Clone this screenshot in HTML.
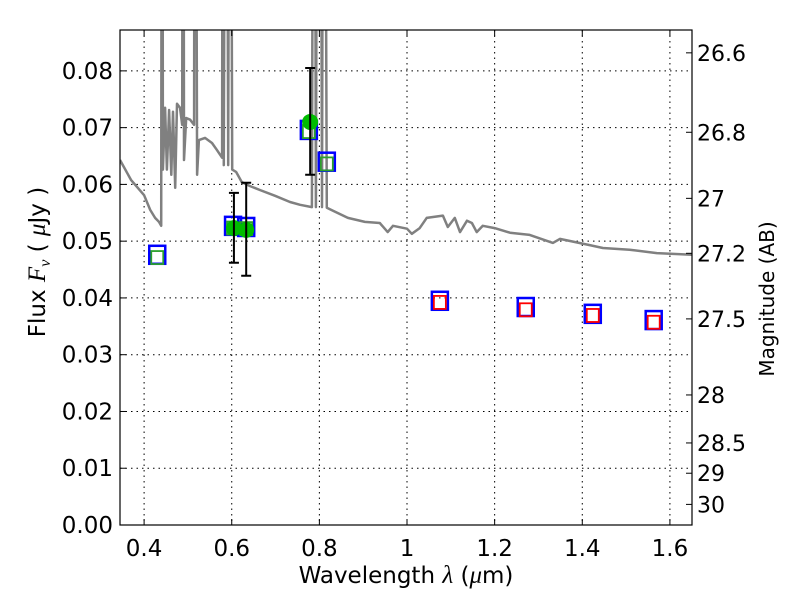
<!DOCTYPE html>
<html><head><meta charset="utf-8"><style>
body{margin:0;background:#fff;}
svg{font-family:"DejaVu Sans","Liberation Sans",sans-serif;}
</style></head><body>
<svg id="chart" width="800" height="600" viewBox="0 0 800 600">
<defs><clipPath id="clip"><rect x="120" y="30" width="572" height="495"/></clipPath></defs>
<rect x="0" y="0" width="800" height="600" fill="#fff"/>
<g id="grid"></g>
<g id="series" clip-path="url(#clip)"></g>
<rect x="120" y="30" width="572" height="495" fill="none" stroke="#000" stroke-width="1.2"/>
<g id="axes"></g>
<text x="406" y="583" font-size="23" text-anchor="middle">Wavelength  <tspan font-style="italic" font-family="Liberation Serif, serif" font-size="25">λ</tspan> (<tspan font-style="italic" font-family="Liberation Serif, serif" font-size="25">μ</tspan>m)</text>
<text transform="translate(45,262) rotate(-90)" font-size="23" text-anchor="middle">Flux  <tspan font-style="italic" font-family="Liberation Serif, serif" font-size="25">F<tspan font-size="16" dy="5">ν</tspan></tspan><tspan dy="-5"> (  </tspan><tspan font-style="italic" font-family="Liberation Serif, serif" font-size="25">μ</tspan>Jy )</text>
<text transform="translate(774,299) rotate(-90)" font-size="20" text-anchor="middle">Magnitude (AB)</text>
</svg>
<script>
const xTicks=[0.4,0.6,0.8,1.0,1.2,1.4,1.6];
const xTickLabels=["0.4","0.6","0.8","1","1.2","1.4","1.6"];
const yTicks=[0,0.01,0.02,0.03,0.04,0.05,0.06,0.07,0.08];
const yTickLabels=["0.00","0.01","0.02","0.03","0.04","0.05","0.06","0.07","0.08"];
const magTicks=[26.6,26.8,27,27.2,27.5,28,28.5,29,30];
const magTickLabels=["26.6","26.8","27","27.2","27.5","28","28.5","29","30"];
const specWave=[0.345,0.370,0.400,0.414,0.425,0.434,0.439,0.441,0.443,0.448,0.452,0.457,0.462,0.466,0.471,0.475,0.482,0.487,0.489,0.491,0.496,0.505,0.514,0.516,0.521,0.525,0.539,0.555,0.566,0.578,0.580,0.582,0.587,0.592,0.596,0.601,0.610,0.623,0.642,0.665,0.699,0.733,0.756,0.783,0.788,0.792,0.797,0.801,0.806,0.810,0.817,0.836,0.865,0.904,0.938,0.956,0.968,1.000,1.011,1.029,1.045,1.082,1.093,1.109,1.121,1.137,1.148,1.159,1.173,1.200,1.235,1.280,1.333,1.349,1.417,1.447,1.508,1.570,1.652];
const specFlux=[0.0643,0.0608,0.0581,0.0555,0.0541,0.0534,0.0527,0.2,0.0626,0.0735,0.0626,0.0731,0.0617,0.0728,0.0594,0.0742,0.0735,0.0705,0.2,0.0643,0.0717,0.0714,0.0705,0.2,0.0617,0.0678,0.0682,0.0673,0.0661,0.0647,0.2,0.0634,0.2,0.0634,0.2,0.0626,0.0622,0.0604,0.0597,0.0590,0.0580,0.0569,0.0564,0.0560,0.2,0.0560,0.2,0.2,0.0560,0.2,0.0559,0.0552,0.0541,0.0534,0.0532,0.0516,0.0527,0.0522,0.0513,0.0523,0.0541,0.0545,0.0525,0.0541,0.0516,0.0536,0.0532,0.0516,0.0527,0.0523,0.0515,0.0511,0.0497,0.0504,0.0493,0.0488,0.0485,0.0479,0.0476];
const modelWave=[0.430,0.603,0.633,0.776,0.817,1.075,1.271,1.424,1.563];
const modelFlux=[0.0476,0.0527,0.0525,0.0696,0.0640,0.0395,0.0384,0.0372,0.0361];
const innerFlux=[0.0472,0.0524,0.0523,0.0694,0.0637,0.0393,0.0380,0.0370,0.0358];
const innerColor=["#2ca02c","#2ca02c","#2ca02c","#2ca02c","#2ca02c","red","red","red","red"];
const obsWave=[0.605,0.633,0.779];
const obsFlux=[0.0523,0.0520,0.0710];
const obsLow=[0.0462,0.0439,0.0617];
const obsHigh=[0.0585,0.0603,0.0805];

const X0=0.345,X1=1.6504,Y0=0,Y1=0.0872;
const L=120,R=692,T=30,B=525;
const xs=v=>L+(v-X0)/(X1-X0)*(R-L);
const ys=v=>B-(v-Y0)/(Y1-Y0)*(B-T);
const magToFlux=m=>Math.pow(10,(23.9-m)/2.5);
const NS="http://www.w3.org/2000/svg";
function mk(tag,attrs,parent){const e=document.createElementNS(NS,tag);for(const k in attrs)e.setAttribute(k,attrs[k]);parent.appendChild(e);return e;}
const grid=document.getElementById('grid'),axes=document.getElementById('axes'),series=document.getElementById('series');

xTicks.forEach((v,i)=>{const x=xs(v);
 const g=mk('line',{x1:x,x2:x,y1:T,y2:B,stroke:'#000','stroke-width':1,'stroke-dasharray':'1.5,4'},grid);
 
 
 mk('line',{x1:x,x2:x,y1:B,y2:B-6,stroke:'#000','stroke-width':1},axes);
 mk('line',{x1:x,x2:x,y1:T,y2:T+6,stroke:'#000','stroke-width':1},axes);
 const t=mk('text',{x:x,y:B+31,'font-size':23,'text-anchor':'middle'},axes);t.textContent=xTickLabels[i];
 
 
});
yTicks.forEach((v,i)=>{const y=ys(v);
 const g=mk('line',{x1:L,x2:R,y1:y,y2:y,stroke:'#000','stroke-width':1,'stroke-dasharray':'1.5,4'},grid);
 
 
 mk('line',{x1:L,x2:L+6,y1:y,y2:y,stroke:'#000','stroke-width':1},axes);
 const t=mk('text',{x:113,y:y+8,'font-size':23,'text-anchor':'end'},axes);t.textContent=yTickLabels[i];
 
 
});
magTicks.forEach((m,i)=>{const y=ys(magToFlux(m));
 mk('line',{x1:R,x2:R-6,y1:y,y2:y,stroke:'#000','stroke-width':1},axes);
 const t=mk('text',{x:697,y:y+8,'font-size':22},axes);t.textContent=magTickLabels[i];
 
 
});
const pts=specWave.map((w,i)=>xs(w).toFixed(1)+','+ys(specFlux[i]).toFixed(1)).join(' ');
const sp=mk('polyline',{points:pts,fill:'none',stroke:'#808080','stroke-width':2.5,'stroke-linejoin':'round'},series);


modelWave.forEach((w,i)=>{const x=xs(w);
 const o=mk('rect',{x:x-8,y:ys(modelFlux[i])-9,width:16,height:18,fill:'none',stroke:'#0000ff','stroke-width':2.5},series);
 
 
 const n=mk('rect',{x:x-6,y:ys(innerFlux[i])-6,width:12,height:13,fill:'none',stroke:innerColor[i],'stroke-width':1.8},series);
 
 
});
obsWave.forEach((w,i)=>{const x=xs(w);
 const c=mk('circle',{cx:x,cy:ys(obsFlux[i]),r:8,fill:'#00bb00'},series);
 
 
 const e=mk('path',{d:`M${x},${ys(obsLow[i])}V${ys(obsHigh[i])}M${x-5},${ys(obsLow[i])}h10M${x-5},${ys(obsHigh[i])}h10`,stroke:'#000','stroke-width':2,fill:'none'},series);
 
 
});
</script>
</body></html>
